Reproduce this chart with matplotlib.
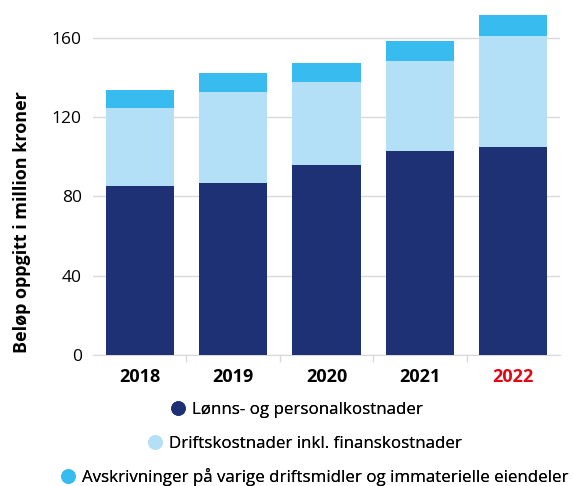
import matplotlib
matplotlib.use("Agg")
import matplotlib.pyplot as plt
from matplotlib.lines import Line2D

years = ["2018", "2019", "2020", "2021", "2022"]
lonn = [85.3, 86.9, 96.0, 103.0, 105.0]
drift = [39.4, 45.9, 41.9, 45.5, 56.0]
avskr = [9.1, 9.6, 9.6, 10.1, 10.7]
series_names = ["Lønns- og personalkostnader",
                "Driftskostnader inkl. finanskostnader",
                "Avskrivninger på varige driftsmidler og immaterielle eiendeler"]
colors = ["#1e3175", "#b3dff7", "#38bbee"]
yticks = [0, 40, 80, 120, 160]

plt.rcParams['font.family'] = ['Open Sans', 'DejaVu Sans']

fig = plt.figure(figsize=(5.74, 4.86), dpi=100)
ax = fig.add_axes([93/574, 1-355/486, (560-93)/574, (355-8)/486])

x = list(range(len(years)))
w = 0.73
bottom2 = lonn
bottom3 = [a + b for a, b in zip(lonn, drift)]
ax.bar(x, lonn, width=w, color=colors[0], zorder=3)
ax.bar(x, drift, width=w, bottom=bottom2, color=colors[1], zorder=3)
ax.bar(x, avskr, width=w, bottom=bottom3, color=colors[2], zorder=3)

ax.set_xlim(-0.5, len(years) - 0.5)
ax.set_ylim(0, 175)
ax.set_yticks(yticks)
ax.set_yticklabels([str(t) for t in yticks], fontsize=12.5)
ax.grid(axis='y', color='#d9d9d9', linewidth=1, zorder=0)
for s in ['top', 'right', 'left']:
    ax.spines[s].set_visible(False)
ax.spines['bottom'].set_color('#d9d9d9')
ax.tick_params(axis='y', length=0, pad=8)
ax.set_xticks(x)
ax.set_xticklabels(years, fontsize=13, fontweight='bold')
ax.tick_params(axis='x', length=0, pad=9)
ax.set_xticks([i + 0.5 for i in x[:-1]], minor=True)
ax.tick_params(axis='x', which='minor', length=5, color='#d9d9d9', width=1)
ax.get_xticklabels()[-1].set_color('#e30613')
fig.text(22/574, 1 - 222/486, "Beløp oppgitt i million kroner", rotation=90,
         fontsize=13, fontweight='bold', ha='center', va='center')

rows_y = [410, 444, 477]
rows_x = [296, 304, 314]
for name, c, yy, xx in zip(series_names, colors, rows_y, rows_x):
    h = Line2D([], [], marker='o', linestyle='', color=c, markersize=9.5)
    leg = fig.legend([h], [name], loc='center', bbox_to_anchor=(xx/574, 1 - yy/486),
                     frameon=False, fontsize=12.2, handletextpad=0.3, handlelength=1.0,
                     borderpad=0, borderaxespad=0)
    fig.add_artist(leg)

fig.savefig("out.png", dpi=100)
